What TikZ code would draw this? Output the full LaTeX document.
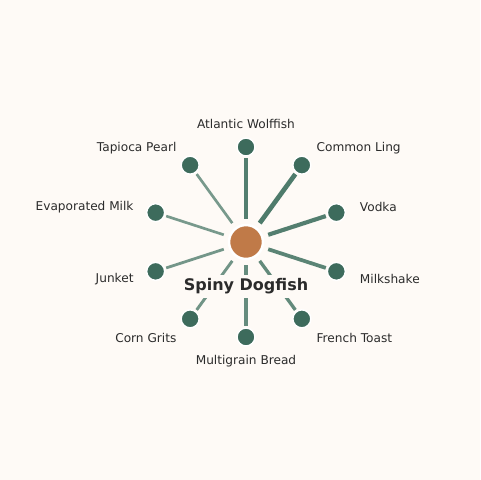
\documentclass[tikz,border=0pt]{standalone}
\usepackage{fontspec}
\setmainfont{DejaVu Sans}
\usetikzlibrary{backgrounds}
\definecolor{bg}{HTML}{FEFAF6}
\definecolor{leaf}{HTML}{3D6B5C}
\definecolor{edgec}{HTML}{4E7B6B}
\definecolor{hub}{HTML}{C07A48}
\definecolor{txt}{HTML}{2B2B2B}
\begin{document}
\begin{tikzpicture}[x=0.75pt,y=-0.75pt,
  leafnode/.style={circle,fill=leaf,draw=white,line width=1.1pt,minimum size=13.5pt,inner sep=0pt},
  hubnode/.style={circle,fill=hub,draw=white,line width=1.9pt,minimum size=25.5pt,inner sep=0pt},
  lab/.style={text=txt,font=\fontsize{9.1}{11}\selectfont,inner sep=0pt},
  hublab/.style={text=txt,font=\fontsize{12}{14}\selectfont\bfseries,fill=bg,inner sep=3pt},
  edgeline/.style={draw=edgec,shorten <=3.8pt,shorten >=1pt}]
\begin{pgfonlayer}{background}
  \fill[bg] (0,0) rectangle (480,480);
\end{pgfonlayer}
\node[hubnode] (c) at (246,242) {};
\foreach \i/\ang/\txt/\anc/\w/\op/\dx/\dy in {
  1/-90/Atlantic Wolffish/center/2.7/0.97/0/0,
  2/-54/Common Ling/west/3.5/1.0/1/1.5,
  3/-18/Vodka/west/3.1/0.97/1.5/1.5,
  4/18/Milkshake/west/2.8/0.92/1.5/0.3,
  5/54/French Toast/west/2.5/0.88/1/0.3,
  6/90/Multigrain Bread/center/2.4/0.86/0/0.8,
  7/126/Corn Grits/east/2.2/0.8/0/0.3,
  8/162/Junket/east/2.1/0.78/0/0.3,
  9/198/Evaporated Milk/east/2.0/0.76/0/1.5,
  10/234/Tapioca Pearl/east/2.0/0.76/0/1.5}{
  \node[leafnode] (n\i) at ([shift={(\ang:95)}]246,242) {};
  \node[lab,anchor=\anc] (l\i) at ([shift={(\ang:118)}]246+\dx,242+\dy) {\txt};
  \begin{pgfonlayer}{background}
    \draw[edgeline,line width=\w pt,draw opacity=\op] (c) -- (n\i);
  \end{pgfonlayer}
}
\node[hublab] (hl) at (246,286.5) {Spiny Dogfish};
\end{tikzpicture}
\end{document}
